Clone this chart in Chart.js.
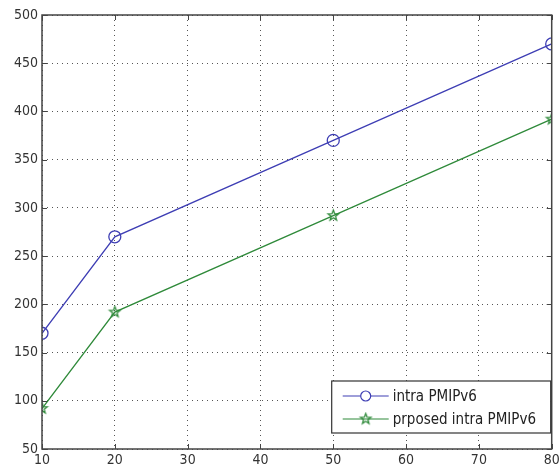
<!DOCTYPE html>
<html><head><meta charset="utf-8">
<script src="https://cdn.jsdelivr.net/npm/chart.js@4"></script>
<style>html,body{margin:0;padding:0;background:#fff}#wrap{width:559px;height:474px}</style>
</head><body><div id="wrap"><canvas id="c" width="559" height="474"></canvas></div>
<script>
const xValues = [10, 20, 50, 80];
const intraPMIPv6 = [170, 270, 370, 470];
const proposedIntraPMIPv6 = [92, 192, 292, 392];
const seriesLabels = ['intra PMIPv6', 'prposed intra PMIPv6'];
const xTicks = [10, 20, 30, 40, 50, 60, 70, 80];
const yTicks = [50, 100, 150, 200, 250, 300, 350, 400, 450, 500];

const FONT = '"DejaVu Sans Condensed", "Liberation Sans Narrow", "Liberation Sans", Arial, sans-serif';
const blue = '#3e3eb4';
const green = '#2f8a3a';

const toPts = ys => xValues.map((x, i) => ({x, y: ys[i]}));

function pentagram(color, r) {
  const c = document.createElement('canvas');
  const s = Math.ceil(r * 2 + 4);
  c.width = s; c.height = s;
  const g = c.getContext('2d');
  g.strokeStyle = color; g.lineWidth = 1.3;
  g.beginPath();
  for (let i = 0; i < 10; i++) {
    const rr = i % 2 === 0 ? r : r * 0.42;
    const ang = -Math.PI / 2 + i * Math.PI / 5;
    const px = s / 2 + rr * Math.cos(ang), py = s / 2 + rr * Math.sin(ang);
    i ? g.lineTo(px, py) : g.moveTo(px, py);
  }
  g.closePath(); g.stroke();
  return c;
}
const starImg = pentagram(green, 5.5);

const frameAndLegend = {
  id: 'frameAndLegend',
  afterDatasetsDraw(chart) {
    const {ctx, chartArea: a, scales} = chart;
    ctx.save();
    ctx.strokeStyle = '#444';
    ctx.lineWidth = 1.5;
    ctx.strokeRect(a.left, a.top, a.right - a.left, a.bottom - a.top);
    // inward tick marks on all four sides
    ctx.lineWidth = 1;
    const tl = 5;
    ctx.beginPath();
    xTicks.forEach(v => {
      const px = Math.round(scales.x.getPixelForValue(v)) + 0.5;
      ctx.moveTo(px, a.bottom); ctx.lineTo(px, a.bottom - tl);
      ctx.moveTo(px, a.top); ctx.lineTo(px, a.top + tl);
    });
    yTicks.forEach(v => {
      const py = Math.round(scales.y.getPixelForValue(v)) + 0.5;
      ctx.moveTo(a.left, py); ctx.lineTo(a.left + tl, py);
      ctx.moveTo(a.right, py); ctx.lineTo(a.right - tl, py);
    });
    ctx.stroke();
    // legend box inside bottom-right
    const bw = 219, bh = 52;
    const bx = a.right - bw - 1, by = a.bottom - bh - 16;
    ctx.fillStyle = '#fff';
    ctx.fillRect(bx, by, bw, bh);
    ctx.strokeStyle = '#333';
    ctx.lineWidth = 1.2;
    ctx.strokeRect(bx, by, bw, bh);
    ctx.font = '15px ' + FONT;
    ctx.textBaseline = 'middle';
    chart.data.datasets.forEach((ds, i) => {
      const cy = by + 15 + i * 23;
      ctx.strokeStyle = ds.borderColor;
      ctx.lineWidth = 1.2;
      ctx.beginPath();
      ctx.moveTo(bx + 11, cy); ctx.lineTo(bx + 57, cy); ctx.stroke();
      Chart.helpers.drawPoint(ctx, {pointStyle: ds.pointStyle, radius: 5, borderWidth: 1.2}, bx + 34, cy);
      ctx.fillStyle = '#222';
      ctx.fillText(ds.label, bx + 61, cy + 1);
    });
    ctx.restore();
  }
};

new Chart(document.getElementById('c'), {
  type: 'line',
  data: {
    datasets: [
      {label: seriesLabels[0], data: toPts(intraPMIPv6), borderColor: blue, backgroundColor: 'transparent',
       borderWidth: 1.3, pointStyle: 'circle', pointRadius: 6, pointBorderColor: blue, pointBackgroundColor: 'transparent', pointBorderWidth: 1.3, tension: 0},
      {label: seriesLabels[1], data: toPts(proposedIntraPMIPv6), borderColor: green, backgroundColor: 'transparent',
       borderWidth: 1.3, pointStyle: starImg, pointRadius: 5, pointBorderColor: green, pointBackgroundColor: 'transparent', pointBorderWidth: 1.5, tension: 0}
    ]
  },
  options: {
    responsive: false,
    animation: false,
    layout: {padding: {top: 15, right: 6, left: 0, bottom: 0}},
    plugins: {legend: {display: false}, tooltip: {enabled: false}},
    scales: {
      x: {
        type: 'linear', min: 10, max: 80,
        afterBuildTicks: s => { s.ticks = xTicks.map(v => ({value: v})); },
        afterFit: s => { s.height = 25; s.paddingLeft = 0; s.paddingRight = 0; },
        grid: {color: '#555', drawTicks: false, lineWidth: 1},
        border: {display: false, dash: [1, 4]},
        ticks: {font: {family: FONT, size: 14}, color: '#333', padding: 3, maxRotation: 0, autoSkip: false}
      },
      y: {
        type: 'linear', min: 50, max: 500,
        afterBuildTicks: s => { s.ticks = yTicks.map(v => ({value: v})); },
        afterFit: s => { s.width = 42; s.paddingTop = 0; s.paddingBottom = 0; },
        grid: {color: '#555', drawTicks: false, lineWidth: 1},
        border: {display: false, dash: [1, 4]},
        ticks: {font: {family: FONT, size: 14}, color: '#333', padding: 4, autoSkip: false}
      }
    }
  },
  plugins: [frameAndLegend]
});
</script></body></html>
